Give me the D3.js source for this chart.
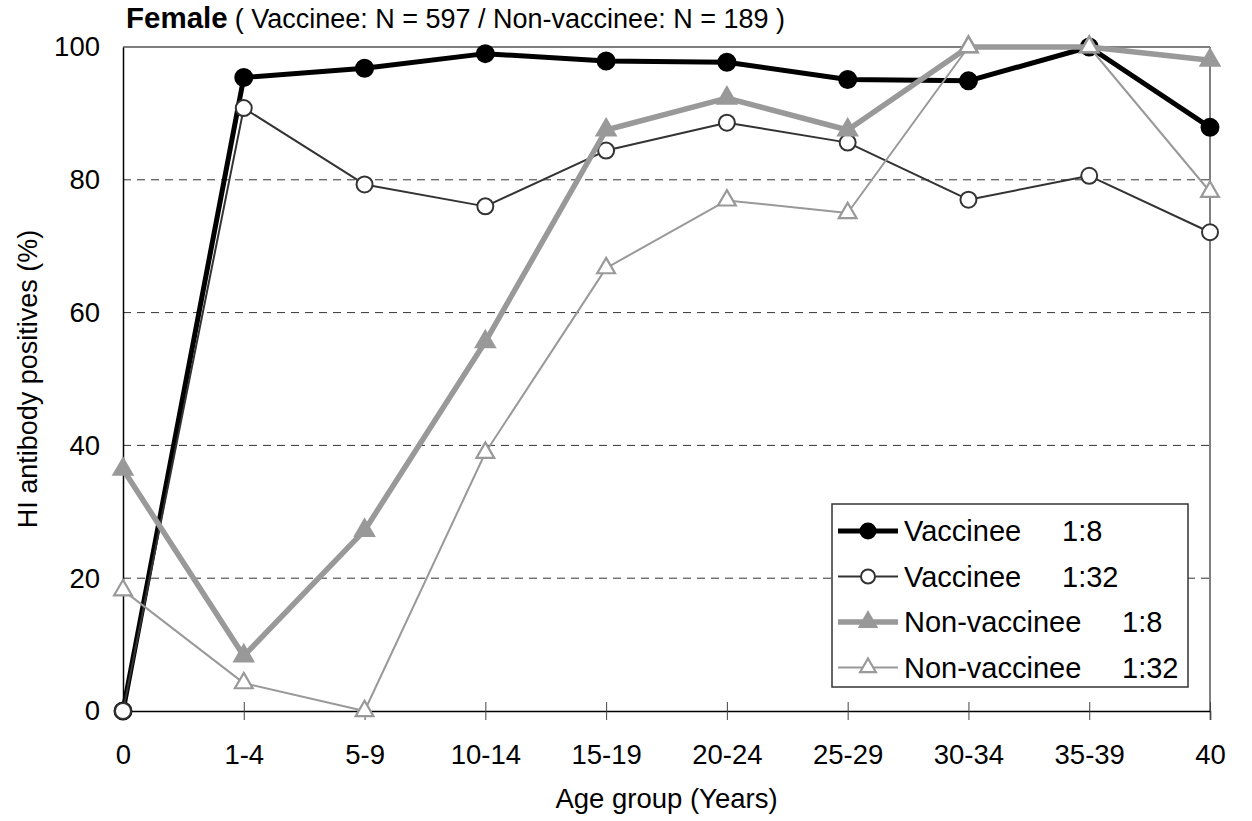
<!DOCTYPE html>
<html>
<head>
<meta charset="utf-8">
<script src="https://cdn.jsdelivr.net/npm/d3@7"></script>
<style>
  body { margin: 0; background: #fff; }
  svg { display: block; font-family: "Liberation Sans", Arial, sans-serif; }
</style>
</head>
<body>
<svg id="chart" width="1252" height="821"></svg>
<script>
// age groups on the x axis
let categories = ["0", "1-4", "5-9", "10-14", "15-19", "20-24", "25-29", "30-34", "35-39", "40"];
// % HI antibody positives
let vaccinee8 = [0, 95.4, 96.8, 99.0, 97.9, 97.7, 95.1, 94.9, 100, 87.9];
let vaccinee32 = [0, 90.8, 79.3, 76.0, 84.4, 88.6, 85.6, 77.0, 80.6, 72.1];
let nonVaccinee8 = [36.4, 8.3, 27.2, 55.6, 87.5, 92.3, 87.5, 100, 100, 98.0];
let nonVaccinee32 = [18.2, 4.2, 0, 38.9, 66.7, 76.9, 75.0, 100, 100, 78.2];
let yTicks = [0, 20, 40, 60, 80, 100];

let series = [
  {name: "Vaccinee", titer: "1:8", values: vaccinee8, stroke: "#000", width: 5, marker: "circle", fill: "#000", mstroke: "#000", r: 8.5},
  {name: "Vaccinee", titer: "1:32", values: vaccinee32, stroke: "#333", width: 2, marker: "circle", fill: "#fff", mstroke: "#333", r: 8},
  {name: "Non-vaccinee", titer: "1:8", values: nonVaccinee8, stroke: "#999", width: 5.5, marker: "triangle", fill: "#999", mstroke: "#999", r: 9},
  {name: "Non-vaccinee", titer: "1:32", values: nonVaccinee32, stroke: "#999", width: 2, marker: "triangle", fill: "#fff", mstroke: "#999", r: 8.5}
];

let svg = d3.select("#chart"),
    margin = {top: 47, right: 42, bottom: 110, left: 123},
    width = +svg.attr("width") - margin.left - margin.right,
    height = +svg.attr("height") - margin.top - margin.bottom;

let x = d3.scalePoint().domain(categories).range([0, width]),
    y = d3.scaleLinear().domain([0, 100]).range([height, 0]);

let g = svg.append("g").attr("transform", "translate(" + margin.left + "," + margin.top + ")");

// dashed grid
g.selectAll(".grid")
  .data(yTicks.filter(d => d > 0 && d < 100))
  .enter().append("line")
  .attr("x1", 0).attr("x2", width)
  .attr("y1", d => y(d)).attr("y2", d => y(d))
  .attr("stroke", "#333").attr("stroke-width", 1)
  .attr("stroke-dasharray", "8,6");

// frame: top black, right gray
g.append("line").attr("x1", 0).attr("x2", width).attr("y1", 0).attr("y2", 0)
  .attr("stroke", "#000").attr("stroke-width", 1.2);
g.append("line").attr("x1", width).attr("x2", width).attr("y1", 0).attr("y2", height)
  .attr("stroke", "#808080").attr("stroke-width", 2);

// x axis
let xAxis = g.append("g")
  .attr("transform", "translate(0," + height + ")")
  .call(d3.axisBottom(x).tickSize(9).tickPadding(24));
xAxis.select(".domain").attr("stroke", "#000").attr("stroke-width", 1.5);
xAxis.selectAll(".tick line").attr("y1", -9).attr("stroke", "#444");
xAxis.selectAll(".tick text").attr("font-size", 27.5).attr("fill", "#000")
  .attr("font-family", "Liberation Sans, Arial, sans-serif");

// y axis
let yAxis = g.append("g")
  .call(d3.axisLeft(y).tickValues(yTicks).tickSize(0).tickPadding(23));
yAxis.select(".domain").attr("stroke", "#000").attr("stroke-width", 1.5);
yAxis.selectAll(".tick text").attr("font-size", 27.5).attr("fill", "#000")
  .attr("font-family", "Liberation Sans, Arial, sans-serif");

// axis titles
svg.append("text")
  .attr("transform", "translate(37," + (margin.top + height / 2) + ") rotate(-90)")
  .attr("text-anchor", "middle")
  .attr("font-size", 27)
  .text("HI antibody positives (%)");

svg.append("text")
  .attr("x", margin.left + width / 2)
  .attr("y", 808)
  .attr("text-anchor", "middle")
  .attr("font-size", 27.5)
  .text("Age group (Years)");

// title
let title = svg.append("text").attr("x", 126).attr("y", 28);
title.append("tspan").attr("font-weight", "bold").attr("font-size", 29.5).text("Female");
title.append("tspan").attr("font-size", 27).attr("dx", 7).text("( Vaccinee: N = 597 / Non-vaccinee: N = 189 )");

function marker(sel, s) {
  if (s.marker === "circle") {
    sel.append("circle").attr("r", s.r)
      .attr("fill", s.fill).attr("stroke", s.mstroke).attr("stroke-width", 2);
  } else {
    sel.append("path")
      .attr("d", d3.symbol(d3.symbolTriangle, s.r * s.r * 1.9)())
      .attr("fill", s.fill).attr("stroke", s.mstroke).attr("stroke-width", 2.2);
  }
}

let line = d3.line()
  .x((d, i) => x(categories[i]))
  .y(d => y(d));

series.forEach(s => {
  let sg = g.append("g");
  sg.append("path")
    .attr("d", line(s.values))
    .attr("fill", "none")
    .attr("stroke", s.stroke)
    .attr("stroke-width", s.width)
    .attr("stroke-linejoin", "round");
  sg.selectAll(".pt")
    .data(s.values)
    .enter().append("g")
    .attr("transform", (d, i) => "translate(" + x(categories[i]) + "," + y(d) + ")")
    .each(function() { marker(d3.select(this), s); });
});

// legend
let legend = svg.append("g").attr("transform", "translate(832,504)");
legend.append("rect")
  .attr("width", 356).attr("height", 183)
  .attr("fill", "#fff").attr("stroke", "#333").attr("stroke-width", 1.5);

series.forEach((s, i) => {
  let row = legend.append("g").attr("transform", "translate(0," + (27 + i * 45.5) + ")");
  row.append("line").attr("x1", 6).attr("x2", 66)
    .attr("stroke", s.stroke).attr("stroke-width", s.width);
  let m = row.append("g").attr("transform", "translate(36,0)");
  marker(m, Object.assign({}, s, {r: s.r - 1}));
  row.append("text").attr("x", 72).attr("y", 10)
    .attr("font-size", 29).text(s.name);
  row.append("text").attr("x", s.name === "Vaccinee" ? 230 : 290).attr("y", 10)
    .attr("font-size", 29).text(s.titer);
});
</script>
</body>
</html>
